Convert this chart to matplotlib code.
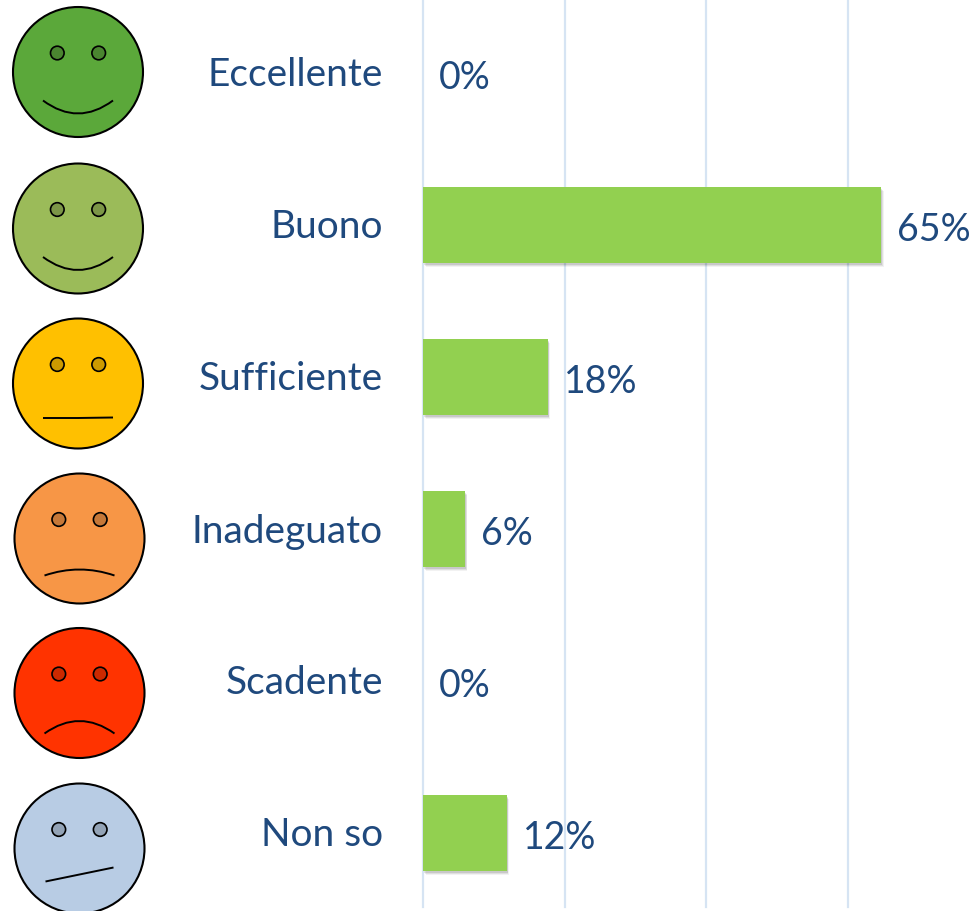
import matplotlib
matplotlib.use("Agg")
import matplotlib.pyplot as plt
import matplotlib.patheffects as pe
from matplotlib.patches import Circle, PathPatch
from matplotlib.path import Path
from matplotlib.transforms import ScaledTranslation

categories = ["Eccellente", "Buono", "Sufficiente", "Inadeguato", "Scadente", "Non so"]
values = [0, 64.7, 17.6, 5.9, 0, 11.8]
value_labels = ["0%", "65%", "18%", "6%", "0%", "12%"]
x_ticks = [0, 20, 40, 60]

face_colors = ["#5BA83A", "#9BBB59", "#FFC000", "#F79646", "#FF3300", "#B8CCE4"]
eye_colors = ["#4A8530", "#7C9647", "#CC9A00", "#C67838", "#CC2900", "#93A3B6"]
face_centers = [(78, 73), (78, 229.5), (78, 384.5), (79.5, 539.5), (79.5, 694), (79.5, 849.5)]
mouth_shapes = [
    ((-35, 28.5), (0, 41.5), (35, 28.5)),
    ((-35, 28.5), (0, 41.5), (35, 28.5)),
    ((-35, 34.5), (0, 34.5), (35, 34.0)),
    ((-35, 37), (0, 31), (35, 37)),
    ((-35, 40.5), (0, 28), (35, 40.5)),
    ((-34, 33), (0, 26), (34, 19)),
]

W, H = 975, 912
text_color = "#1F497D"
grid_color = "#D6E4F3"
bar_color = "#92D050"
plt.rcParams["font.family"] = ["Lato", "DejaVu Sans"]

fig = plt.figure(figsize=(W / 100, H / 100), dpi=100, facecolor="white")

# chart axes: 0 at x=423 px, 7.08 px per percent, rows 152 px apart
ax = fig.add_axes([423 / W, (H - 908) / H, (W - 423) / W, 908 / H])
ax.set_xlim(0, (W - 423) / 7.08)
ax.set_ylim((908 - 74) / 152, -74 / 152)
ax.set_facecolor("none")
for s in ax.spines.values():
    s.set_visible(False)
ax.set_xticks(x_ticks)
ax.set_xticklabels([])
ax.tick_params(axis="x", length=0)
ax.xaxis.grid(True, color=grid_color, lw=1.6)
for gl in ax.get_xgridlines():
    gl.set_clip_on(False)
ax.set_axisbelow(True)
ax.set_yticks(range(len(categories)))
ax.set_yticklabels(categories, fontsize=28, color=text_color)
ax.tick_params(axis="y", length=0, pad=29)
up = ScaledTranslation(0, 2 / 100, fig.dpi_scale_trans)
for t in ax.get_yticklabels():
    t.set_clip_on(False)
    t.set_transform(t.get_transform() + up)

bars = ax.barh(range(len(categories)), values, height=0.5, color=bar_color, linewidth=0)
for b in bars:
    b.set_path_effects([
        pe.SimplePatchShadow(offset=(1.8, -3), shadow_rgbFace="#000000", alpha=0.05),
        pe.SimplePatchShadow(offset=(1.3, -2.2), shadow_rgbFace="#000000", alpha=0.08),
        pe.SimplePatchShadow(offset=(0.8, -1.4), shadow_rgbFace="#000000", alpha=0.10),
        pe.Normal(),
    ])
for i, (v, lab) in enumerate(zip(values, value_labels)):
    ax.annotate(lab, (v, i), xytext=(11.6, -2.8), textcoords="offset points",
                ha="left", va="center", fontsize=27, color=text_color, annotation_clip=False)

# faces, drawn in pixel coordinates
fx = fig.add_axes([0, 0, 1, 1])
fx.set_xlim(0, W)
fx.set_ylim(H, 0)
fx.axis("off")
fx.patch.set_alpha(0)
R = 65
for c, ec, (cx, cy), (a, p, b) in zip(face_colors, eye_colors, face_centers, mouth_shapes):
    fx.add_patch(Circle((cx, cy), R, fc=c, ec="black", lw=1.5))
    for d in (-20.7, 20.7):
        fx.add_patch(Circle((cx + d, cy - 19), 6.8, fc=ec, ec="black", lw=1.2))
    ctrl = (2 * p[0] - (a[0] + b[0]) / 2, 2 * p[1] - (a[1] + b[1]) / 2)
    path = Path([(cx + a[0], cy + a[1]), (cx + ctrl[0], cy + ctrl[1]), (cx + b[0], cy + b[1])],
                [Path.MOVETO, Path.CURVE3, Path.CURVE3])
    fx.add_patch(PathPatch(path, fc="none", ec="black", lw=1.4))

fig.savefig("out.png", dpi=100, facecolor="white")
